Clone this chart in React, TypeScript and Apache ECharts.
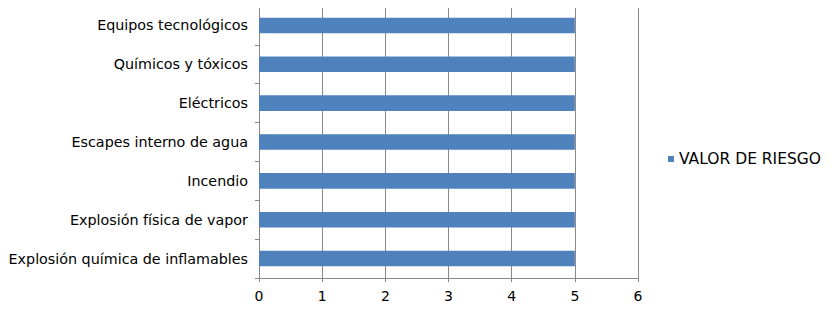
import React, { useEffect, useRef } from "react";
import * as echarts from "echarts";

const categories = [
  "Explosión química de inflamables",
  "Explosión física de vapor",
  "Incendio",
  "Escapes interno de agua",
  "Eléctricos",
  "Químicos y tóxicos",
  "Equipos tecnológicos",
];
const seriesName = "VALOR DE RIESGO";
const values = [5, 5, 5, 5, 5, 5, 5];

export default function App() {
  const ref = useRef<HTMLDivElement>(null);
  useEffect(() => {
    if (!ref.current) return;
    const chart = echarts.init(ref.current, null, { renderer: "svg" });
    const font = "DejaVu Sans, sans-serif";
    chart.setOption({
      animation: false,
      textStyle: { fontFamily: font },
      grid: { left: 259, right: 192, top: 6, bottom: 36, containLabel: false },
      legend: {
        data: [seriesName],
        left: 663,
        top: 146,
        icon: "rect",
        itemWidth: 6,
        itemHeight: 6,
        textStyle: { fontSize: 15.5, color: "#000", fontFamily: font, padding: [0, 0, 0, 0] },
      },
      xAxis: {
        type: "value",
        min: 0,
        max: 6,
        interval: 1,
        axisLine: { show: true, lineStyle: { color: "#888", width: 1 } },
        axisTick: { show: true, length: 4, lineStyle: { color: "#888" } },
        axisLabel: { fontSize: 14, color: "#000", margin: 11, fontFamily: font },
        splitLine: { show: true, lineStyle: { color: "#888", width: 1 } },
      },
      yAxis: {
        type: "category",
        data: categories,
        axisLine: { show: true, lineStyle: { color: "#888", width: 1 } },
        axisTick: { show: true, length: 4, alignWithLabel: false, lineStyle: { color: "#888" } },
        axisLabel: { fontSize: 14.3, color: "#000", margin: 11, fontFamily: font },
        splitLine: { show: false },
      },
      series: [
        {
          name: seriesName,
          type: "bar",
          data: values,
          barWidth: "40%",
          itemStyle: { color: "#4F81BD" },
        },
      ],
    });
    return () => chart.dispose();
  }, []);
  return <div ref={ref} style={{ width: 830, height: 314, margin: -8 }} />;
}
